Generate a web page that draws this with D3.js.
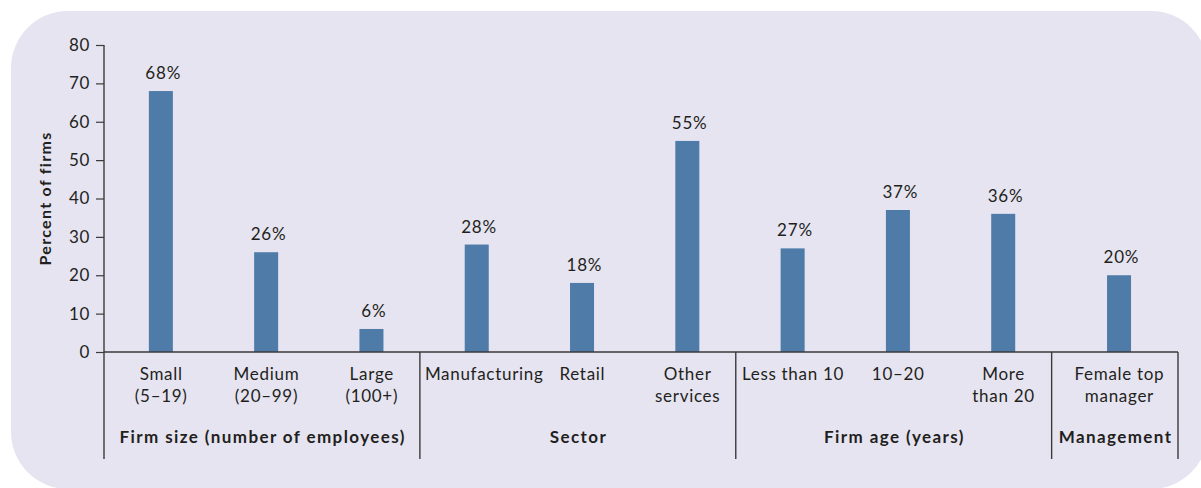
<!DOCTYPE html>
<html>
<head>
<meta charset="utf-8">
<script src="https://cdn.jsdelivr.net/npm/d3@7"></script>
<style>
  html, body { margin: 0; padding: 0; background: #ffffff; }
  svg { display: block; }
  text { font-family: Lato, "Open Sans", sans-serif; fill: #231f20; }
</style>
</head>
<body>
<svg id="chart" width="1201" height="488"></svg>
<script>
// Share of firms by firm characteristic (percent)
const categoryLabels = [
  ["Small", "(5–19)"],
  ["Medium", "(20–99)"],
  ["Large", "(100+)"],
  ["Manufacturing"],
  ["Retail"],
  ["Other", "services"],
  ["Less than 10"],
  ["10–20"],
  ["More", "than 20"],
  ["Female top", "manager"]
];
const values = [68, 26, 6, 28, 18, 55, 27, 37, 36, 20];
const categoryGroup = [0, 0, 0, 1, 1, 1, 2, 2, 2, 3];
const groupNames = ["Firm size (number of employees)", "Sector", "Firm age (years)", "Management"];
const yTicks = [0, 10, 20, 30, 40, 50, 60, 70, 80];
const yTitle = "Percent of firms";

const svg = d3.select("#chart");

// rounded backdrop panel
svg.append("rect")
  .attr("x", 11).attr("y", 11)
  .attr("width", 1197).attr("height", 478)
  .attr("rx", 57).attr("ry", 57)
  .attr("fill", "#e6e4f1");

const axisColor = "#3d3a3b";
const plotLeft = 104, plotRight = 1178, plotTop = 45, plotBottom = 352, frameBottom = 459;
const regularSpacing = 0.7, boldSpacing = 1.4;

const y = d3.scaleLinear().domain([0, 80]).range([plotBottom, plotTop]);

// group slots: one unit per category, the single-bar group gets a bit more room
const groupCounts = groupNames.map((g, gi) => categoryGroup.filter(c => c === gi).length);
const groupUnits = groupCounts.map(n => n === 1 ? 1.2 : n);
const groupStart = [];
groupUnits.reduce((acc, w, i) => { groupStart[i] = acc; return acc + w; }, 0);
const totalUnits = d3.sum(groupUnits);
const u = d3.scaleLinear().domain([0, totalUnits]).range([plotLeft, plotRight]);

const centers = values.map((v, i) => {
  const g = categoryGroup[i];
  const k = categoryGroup.slice(0, i).filter(c => c === g).length;
  const extra = (groupUnits[g] - groupCounts[g]) / 2;
  return u(groupStart[g] + extra + k + 0.54);
});
const barW = u(0.228) - u(0);

// bars
svg.append("g").selectAll("rect")
  .data(values)
  .join("rect")
  .attr("x", (d, i) => centers[i] - barW / 2)
  .attr("y", d => y(d))
  .attr("width", barW)
  .attr("height", d => y(0) - y(d))
  .attr("fill", "#4e7ba7");

// value labels
svg.append("g").selectAll("text")
  .data(values)
  .join("text")
  .attr("x", (d, i) => centers[i] + 2 + regularSpacing / 2)
  .attr("y", d => y(d) - 12)
  .attr("text-anchor", "middle")
  .style("font-size", "17px")
  .style("letter-spacing", "0.8px")
  .text(d => d + "%");

// y axis
const yAxis = svg.append("g")
  .attr("transform", `translate(${plotLeft},0)`)
  .call(d3.axisLeft(y).tickValues(yTicks).tickSize(8).tickPadding(6).tickSizeOuter(0));
yAxis.select(".domain").remove();
yAxis.selectAll(".tick line").attr("stroke", axisColor).attr("stroke-width", 1.2);
yAxis.selectAll(".tick text")
  .style("font-family", "Lato, 'Open Sans', sans-serif")
  .style("font-size", "17px")
  .style("letter-spacing", "0.6px")
  .attr("fill", "#231f20");

// frame lines: vertical axis, baseline and group dividers
const frame = svg.append("g").attr("stroke", axisColor).attr("stroke-width", 1.4);
frame.append("line")
  .attr("x1", plotLeft).attr("x2", plotLeft)
  .attr("y1", y(80)).attr("y2", frameBottom);
frame.append("line")
  .attr("x1", plotLeft).attr("x2", plotRight)
  .attr("y1", y(0)).attr("y2", y(0));
const dividerUnits = groupStart.slice(1).concat([totalUnits]);
frame.selectAll(".div")
  .data(dividerUnits)
  .join("line")
  .attr("class", "div")
  .attr("x1", d => u(d)).attr("x2", d => u(d))
  .attr("y1", y(0)).attr("y2", frameBottom);

// category labels
const catG = svg.append("g");
categoryLabels.forEach((lines, i) => {
  const t = catG.append("text")
    .attr("text-anchor", "middle")
    .style("font-size", "17px")
    .style("letter-spacing", regularSpacing + "px");
  lines.forEach((line, j) => {
    t.append("tspan")
      .attr("x", centers[i] + regularSpacing / 2)
      .attr("y", y(0) + 28 + j * 22)
      .text(line);
  });
  // keep the label clear of the group divider on its left
  const w = t.node().getBBox().width;
  const gl = u(groupStart[categoryGroup[i]]);
  if (centers[i] - w / 2 < gl + 5) {
    t.selectAll("tspan").attr("x", gl + 5 + w / 2);
  }
});

// group labels
svg.append("g").selectAll("text")
  .data(groupNames)
  .join("text")
  .attr("x", (d, i) => u(groupStart[i] + groupUnits[i] / 2) + boldSpacing / 2)
  .attr("y", y(0) + 91)
  .attr("text-anchor", "middle")
  .style("font-size", "17px")
  .style("font-weight", "700")
  .style("letter-spacing", boldSpacing + "px")
  .text(d => d);

// y axis title
svg.append("text")
  .attr("transform", `translate(51,${(y(0) + y(80)) / 2}) rotate(-90)`)
  .attr("text-anchor", "middle")
  .style("font-size", "16px")
  .style("font-weight", "700")
  .style("letter-spacing", "1.3px")
  .text(yTitle);
</script>
</body>
</html>
